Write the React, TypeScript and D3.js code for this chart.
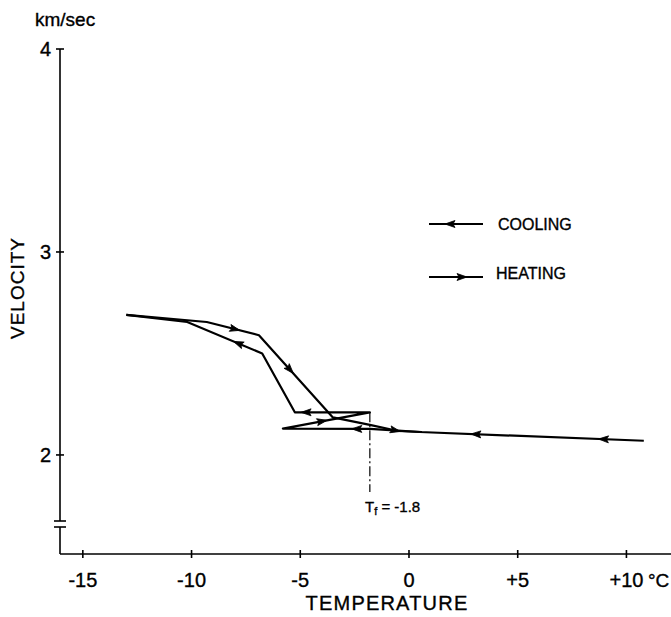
import React from "react";
import * as d3 from "d3";

// velocity of ultrasonic waves vs temperature
const coolingT = [10.8, 0.5, -0.5, -1.8, -5.8, -1.8, -5.25, -6.75, -10.2, -13.0];
const coolingV = [2.07, 2.113, 2.12, 2.128, 2.13, 2.21, 2.21, 2.5, 2.655, 2.69];
const heatingT = [-13.0, -9.3, -6.9, -3.5, -1.8, -0.5, 0.6];
const heatingV = [2.69, 2.655, 2.59, 2.185, 2.148, 2.118, 2.113];

// arrows: [segment index, fraction along segment]
const coolingArrows = [[0, 0.18], [0, 0.75], [3, 0.15], [4, 0.45], [5, 0.85], [7, 0.32]];
const heatingArrows = [[1, 0.54], [2, 0.42], [4, 0.9]];

const xTicks = [-15, -10, -5, 0, 5, 10];
const xTickLabels = ["-15", "-10", "-5", "0", "+5", "+10"];
const yTicks = [2, 3, 4];
const Tf = -1.8;

const FONT = "'Liberation Sans', Arial, sans-serif";

export default function App() {
  const width = 671;
  const height = 617;

  const x = d3.scaleLinear().domain([-16.05, 12.05]).range([60, 671]);
  const y = d3.scaleLinear().domain([1.512, 4]).range([554, 49]);

  const line = d3
    .line<[number, number]>()
    .x((d) => x(d[0]))
    .y((d) => y(d[1]));

  const cooling: [number, number][] = coolingT.map((t, i) => [t, coolingV[i]]);
  const heating: [number, number][] = heatingT.map((t, i) => [t, heatingV[i]]);

  // arrow head centred on a point, pointing along (dx,dy)
  const arrowHead = (px: number, py: number, dx: number, dy: number, key: string) => {
    const a = (Math.atan2(dy, dx) * 180) / Math.PI;
    return (
      <path
        key={key}
        d="M5,0 L-5,-3.5 L-3,0 L-5,3.5 Z"
        transform={`translate(${px},${py}) rotate(${a})`}
        fill="#000"
        stroke="#000"
        strokeWidth={0.8}
      />
    );
  };

  const seriesArrows = (pts: [number, number][], arr: number[][], name: string) =>
    arr.map(([i, f], k) => {
      const a = pts[i];
      const b = pts[i + 1];
      const x0 = x(a[0]), y0 = y(a[1]), x1 = x(b[0]), y1 = y(b[1]);
      return arrowHead(x0 + (x1 - x0) * f, y0 + (y1 - y0) * f, x1 - x0, y1 - y0, name + k);
    });

  const axisX = 60;
  const axisY = 554;
  const breakA = 521;
  const breakB = 527;

  return (
    <svg width={width} height={height} style={{ display: "block", position: "absolute", left: 0, top: 0 }}>
      <rect width={width} height={height} fill="#fff" />

      {/* y axis with break */}
      <g stroke="#000" strokeWidth={1.6}>
        <line x1={axisX} x2={axisX} y1={y(4)} y2={breakA} />
        <line x1={axisX} x2={axisX} y1={breakB} y2={axisY} />
        <line x1={axisX - 6} x2={axisX + 6} y1={breakA} y2={breakA} />
        <line x1={axisX - 6} x2={axisX + 6} y1={breakB} y2={breakB} />
        {yTicks.map((t) => (
          <line key={t} x1={axisX - 4} x2={axisX + 4} y1={y(t)} y2={y(t)} />
        ))}
        {/* x axis */}
        <line x1={axisX} x2={671} y1={axisY} y2={axisY} />
        {xTicks.map((t) => (
          <line key={t} x1={x(t)} x2={x(t)} y1={axisY - 4} y2={axisY + 4} />
        ))}
      </g>

      <g fontFamily={FONT} fill="#000" stroke="#000" strokeWidth={0.35}>
        {yTicks.map((t) => (
          <text key={t} x={axisX - 9} y={y(t)} dy="0.36em" textAnchor="end" fontSize={20}>
            {t}
          </text>
        ))}
        <text x={35} y={26} fontSize={19}>
          km/sec
        </text>
        <text
          transform={`translate(24,${288}) rotate(-90)`}
          textAnchor="middle"
          fontSize={19}
          letterSpacing={1}
        >
          VELOCITY
        </text>
        {xTicks.map((t, i) => (
          <text key={t} x={x(t)} y={587} textAnchor="middle" fontSize={20}>
            {xTickLabels[i]}
          </text>
        ))}
        <text x={648} y={587} fontSize={19}>
          °C
        </text>
        <text x={387} y={610} textAnchor="middle" fontSize={20} letterSpacing={1.2}>
          TEMPERATURE
        </text>
        <text x={365} y={512} fontSize={15}>
          T
          <tspan fontSize={11} dy={3}>
            f
          </tspan>
          <tspan dy={-3}> = -1.8</tspan>
        </text>
        <text x={498} y={224} dy="0.35em" fontSize={16}>
          COOLING
        </text>
        <text x={496} y={273} dy="0.35em" fontSize={16}>
          HEATING
        </text>
      </g>

      {/* Tf marker */}
      <line
        x1={x(Tf)}
        x2={x(Tf)}
        y1={y(2.21)}
        y2={492}
        stroke="#000"
        strokeWidth={1.2}
        strokeDasharray="10 3 2 3"
      />

      {/* legend */}
      <g stroke="#000" strokeWidth={1.8}>
        <line x1={429} x2={483} y1={224} y2={224} />
        <line x1={429} x2={483} y1={277} y2={277} />
      </g>
      {arrowHead(450, 224, -1, 0, "lc")}
      {arrowHead(462, 277, 1, 0, "lh")}

      {/* data */}
      <path d={line(cooling) || ""} fill="none" stroke="#000" strokeWidth={2.2} strokeLinejoin="round" />
      <path d={line(heating) || ""} fill="none" stroke="#000" strokeWidth={2.2} strokeLinejoin="round" />
      {seriesArrows(cooling, coolingArrows, "c")}
      {seriesArrows(heating, heatingArrows, "h")}
    </svg>
  );
}
